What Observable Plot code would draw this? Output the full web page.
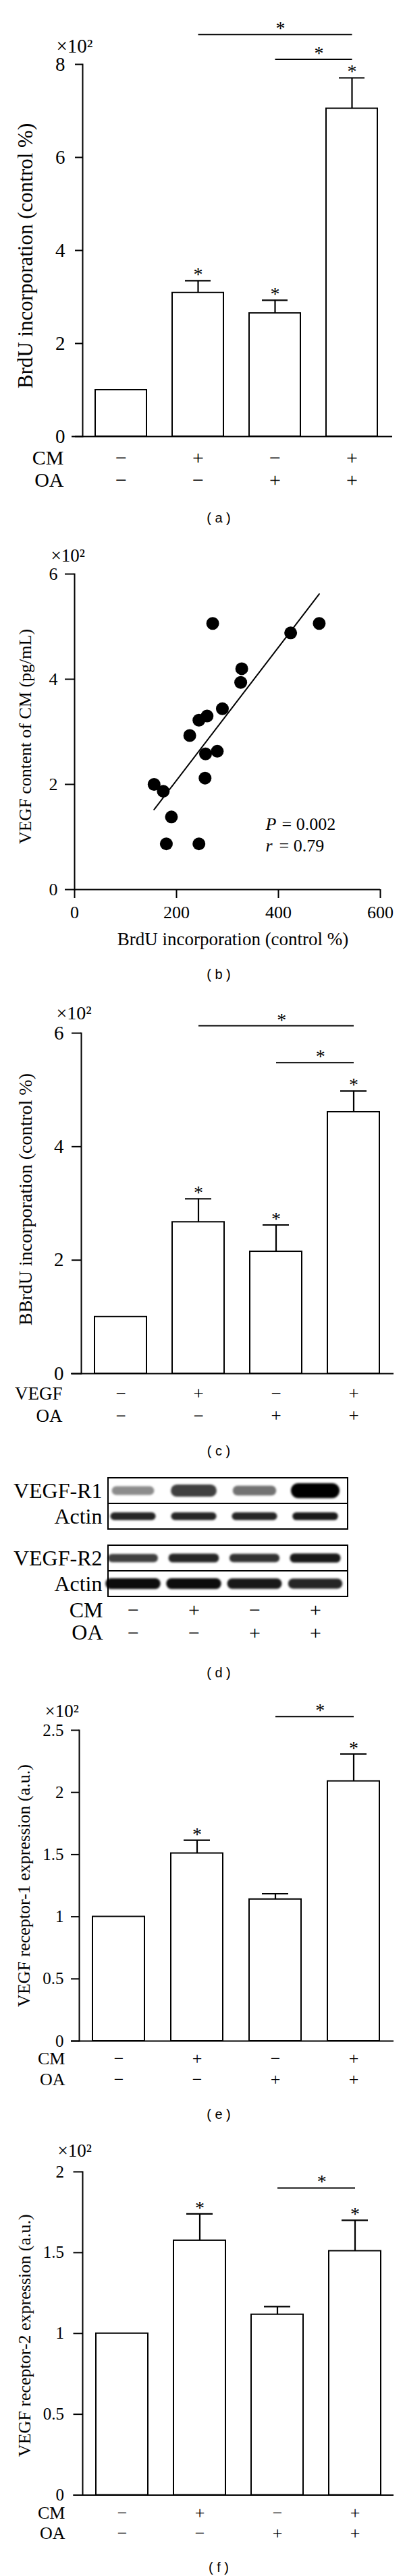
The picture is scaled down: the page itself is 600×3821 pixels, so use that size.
<!DOCTYPE html>
<html><head><meta charset="utf-8">
<script src="https://cdn.jsdelivr.net/npm/d3@7"></script>
<script src="https://cdn.jsdelivr.net/npm/@observablehq/plot@0.6"></script>
<style>
body{margin:0;background:#fff;}
#fig{position:relative;width:600px;height:3821px;background:#fff;overflow:hidden;}
#fig svg{position:absolute;left:0;overflow:visible;}
.cap{position:absolute;left:274px;width:100px;text-align:center;font-family:"Liberation Sans",Arial,sans-serif;font-size:20px;line-height:24px;color:#000;white-space:pre;}
</style></head><body><div id="fig"></div>
<script>
// ---------- data ----------
const groups = ["g1", "g2", "g3", "g4"];
const cmSigns = ["−", "+", "−", "+"];
const oaSigns = ["−", "−", "+", "+"];
const vegfSigns = ["−", "+", "−", "+"];

// (a) BrdU incorporation with CM / OA (×10²)
const aMean = [1.0, 3.09, 2.65, 7.05];
const aErr = [null, 3.35, 2.93, 7.71];
const aStar = [false, true, true, true];
const aBrackets = [["g2", "g4", 8.64], ["g3", "g4", 8.11]];
const aTicks = [0, 2, 4, 6, 8];

// (b) scatter: BrdU incorporation (control %) vs VEGF content of CM (×10² pg/mL)
const bX = [271, 480, 424, 328, 326, 290, 260, 244, 226, 257, 280, 256, 156, 174, 190, 180, 244];
const bY = [5.06, 5.06, 4.88, 4.20, 3.94, 3.44, 3.30, 3.22, 2.93, 2.58, 2.63, 2.12, 2.00, 1.87, 1.38, 0.87, 0.87];
const bFitX = [156, 480];
const bFitY = [1.52, 5.62];
const bXTicks = [0, 200, 400, 600];
const bYTicks = [0, 2, 4, 6];

// (c) BrdU incorporation with VEGF / OA (×10²)
const cMean = [1.0, 2.67, 2.15, 4.61];
const cErr = [null, 3.08, 2.62, 4.98];
const cStar = [false, true, true, true];
const cBrackets = [["g2", "g4", 6.13], ["g3", "g4", 5.48]];
const cTicks = [0, 2, 4, 6];

// (d) western blot band intensities (relative)
const r1Band = [0.45, 0.75, 0.55, 1.0];
const actin1Band = [0.85, 0.85, 0.85, 0.9];
const r2Band = [0.75, 0.85, 0.8, 0.9];
const actin2Band = [0.95, 0.95, 0.9, 0.85];

// (e) VEGF receptor-1 expression (×10²)
const eMean = [1.0, 1.51, 1.14, 2.09];
const eErr = [null, 1.615, 1.185, 2.31];
const eStar = [false, true, false, true];
const eBrackets = [["g3", "g4", 2.61]];
const eTicks = [0, 0.5, 1, 1.5, 2, 2.5];

// (f) VEGF receptor-2 expression (×10²)
const fMean = [1.0, 1.575, 1.117, 1.51];
const fErr = [null, 1.74, 1.166, 1.70];
const fStar = [false, true, false, true];
const fBrackets = [["g3", "g4", 1.90]];
const fTicks = [0, 0.5, 1, 1.5, 2];

// ---------- helpers ----------
const SERIF = "'Liberation Serif','Times New Roman',Times,serif";
const fig = document.getElementById("fig");
function place(svg, top) {
  svg.style.position = "absolute";
  svg.style.top = top + "px";
  svg.style.left = "0px";
  fig.appendChild(svg);
}
function caption(text, centerY) {
  const d = document.createElement("div");
  d.className = "cap";
  d.textContent = text;
  d.style.top = (centerY - 12) + "px";
  fig.appendChild(d);
}
const baseStyle = {fontFamily: SERIF, background: "transparent", color: "#000", overflow: "visible"};
const MID = {lineAnchor: "middle", fill: "black"};

function barPanel(c) {
  const data = groups.map((g, i) => ({g, mean: c.mean[i], err: c.err[i], star: c.star[i]}));
  const withErr = data.filter(d => d.err != null);
  const starred = data.filter(d => d.star);
  const brackets = c.brackets.map(([from, to, level]) => ({from, to, level}));
  const step = (c.xRange[1] - c.xRange[0]) / groups.length;
  const marks = [
    Plot.barY(data, {x: "g", y: "mean", fill: "white", stroke: "black", strokeWidth: 2}),
    Plot.ruleX(withErr, {x: "g", y1: "mean", y2: "err", strokeWidth: 2.2}),
    Plot.tickY(withErr, {x: "g", y: "err", strokeWidth: 2.2, inset: 19}),
    Plot.text(starred, {x: "g", y: "err", text: () => "*", dy: -9, fontSize: 28, ...MID}),
    Plot.link(brackets, {x1: "from", x2: "to", y1: "level", y2: "level", strokeWidth: 2}),
    ...brackets.map(b => Plot.text([b], {
      x: "from", y: "level", text: () => "*", dy: -9, fontSize: 28, ...MID,
      dx: (groups.indexOf(b.to) - groups.indexOf(b.from)) * step / 2 + 8
    })),
    Plot.ruleY([0], {strokeWidth: 2, insetLeft: c.baselineInset}),
    Plot.frame({anchor: "left", strokeWidth: 2}),
    Plot.axisY({ticks: c.ticks, tickSize: c.tickSize, tickPadding: c.tickPadding, fontSize: c.tickFont,
      strokeWidth: 2, tickFormat: d => String(d), label: null}),
    Plot.text(["×10²"], {frameAnchor: "top-left", textAnchor: "start", ...MID, dx: c.tenDx, dy: c.tenDy, fontSize: c.tenFont}),
    Plot.text([c.yLabel], {frameAnchor: "left", textAnchor: "middle", ...MID, rotate: -90,
      dx: c.yLabelDx, dy: c.yLabelDy, fontSize: c.yLabelFont})
  ];
  c.rowNames.forEach((name, r) => {
    marks.push(Plot.text(groups, {x: d => d, text: (d, i) => c.rowSigns[r][i], frameAnchor: "bottom",
      textAnchor: "middle", ...MID, dy: c.rowDy[r], fontSize: c.rowFont}));
    marks.push(Plot.text([name], {frameAnchor: "bottom-left", textAnchor: "end", ...MID, dx: c.rowLabelDx,
      dy: c.rowDy[r], fontSize: c.rowFont}));
  });
  const svg = Plot.plot({
    width: 600, height: c.height,
    marginTop: c.frameTop - c.top, marginBottom: c.top + c.height - c.frameBottom,
    marginLeft: c.marginLeft, marginRight: c.marginRight,
    style: baseStyle,
    x: {type: "band", domain: groups, range: c.xRange, paddingInner: 1 / 3, paddingOuter: 1 / 6, axis: null},
    y: {domain: c.yDomain, axis: null},
    marks
  });
  place(svg, c.top);
}

// ---------- (a) ----------
barPanel({
  top: 0, height: 740, frameTop: 95, frameBottom: 647, marginLeft: 122, marginRight: 19,
  xRange: [122, 578], yDomain: [0, 8], ticks: aTicks, tickSize: 11, tickPadding: 15, tickFont: 29,
  baselineInset: -16, mean: aMean, err: aErr, star: aStar, brackets: aBrackets,
  rowNames: ["CM", "OA"], rowSigns: [cmSigns, oaSigns], rowDy: [32, 65], rowLabelDx: -28, rowFont: 30,
  yLabel: "BrdU incorporation (control %)", yLabelFont: 31, yLabelDx: -84, yLabelDy: 8,
  tenDx: -39, tenDy: -27, tenFont: 29
});
caption("( a )", 768);

// ---------- (b) ----------
{
  const pts = bX.map((x, i) => ({x, y: bY[i]}));
  const fit = bFitX.map((x, i) => ({x, y: bFitY[i]}));
  const top = 790, height = 620, frameTop = 851, frameBottom = 1319;
  const L = {frameAnchor: "bottom-left", textAnchor: "start", ...MID, fontSize: 26};
  const svg = Plot.plot({
    width: 600, height, marginTop: frameTop - top, marginBottom: top + height - frameBottom,
    marginLeft: 110, marginRight: 37,
    style: baseStyle,
    x: {domain: [0, 600], axis: null},
    y: {domain: [0, 6], axis: null},
    marks: [
      Plot.ruleY([0], {strokeWidth: 2}),
      Plot.frame({anchor: "left", strokeWidth: 2}),
      Plot.axisY({ticks: bYTicks, tickSize: 14, tickPadding: 11, fontSize: 26, strokeWidth: 2,
        tickFormat: d => String(d), label: null}),
      Plot.axisX({ticks: bXTicks, tickSize: 13, tickPadding: 11, fontSize: 26, strokeWidth: 2,
        tickFormat: d => String(d), label: null}),
      Plot.line(fit, {x: "x", y: "y", strokeWidth: 2}),
      Plot.dot(pts, {x: "x", y: "y", r: 9.5, fill: "black"}),
      Plot.text(["×10²"], {frameAnchor: "top-left", textAnchor: "start", ...MID, dx: -35, dy: -27, fontSize: 27}),
      Plot.text(["VEGF content of CM (pg/mL)"], {frameAnchor: "left", textAnchor: "middle", ...MID,
        rotate: -90, dx: -73, dy: 7, fontSize: 26}),
      Plot.text(["BrdU incorporation (control %)"], {frameAnchor: "bottom", textAnchor: "middle", ...MID,
        dx: 8, dy: 74, fontSize: 27}),
      Plot.text(["P"], {...L, dx: 283, dy: -97, fontStyle: "italic"}),
      Plot.text(["= 0.002"], {...L, dx: 307, dy: -97}),
      Plot.text(["r"], {...L, dx: 283, dy: -65, fontStyle: "italic"}),
      Plot.text(["= 0.79"], {...L, dx: 303, dy: -65})
    ]
  });
  place(svg, top);
}
caption("( b )", 1445);

// ---------- (c) ----------
barPanel({
  top: 1470, height: 648, frameTop: 1532, frameBottom: 2037, marginLeft: 120, marginRight: 17,
  xRange: [120, 581], yDomain: [0, 6], ticks: cTicks, tickSize: 14, tickPadding: 12, tickFont: 29,
  baselineInset: -15, mean: cMean, err: cErr, star: cStar, brackets: cBrackets,
  rowNames: ["VEGF", "OA"], rowSigns: [vegfSigns, oaSigns], rowDy: [29.5, 63], rowLabelDx: -28, rowFont: 27,
  yLabel: "BBrdU incorporation (control %)", yLabelFont: 28, yLabelDx: -82.5, yLabelDy: -6,
  tenDx: -37, tenDy: -29, tenFont: 28
});
caption("( c )", 2152);

// ---------- (d) blots ----------
function blotPanel(c) {
  const rows = [c.target, "Actin"];
  const rowH = (c.frameBottom - c.frameTop) / 2;
  const tgt = groups.map((g, i) => ({g, row: c.target, v: c.targetBand[i]}));
  const act = groups.map((g, i) => ({g, row: "Actin", v: c.actinBand[i]}));
  const bandOpts = {
    x: "g", y: "row", fill: "black", stroke: "black", opacity: "v", strokeLinejoin: "round",
    insetTop: (rowH - 1) / 2, insetBottom: (rowH - 1) / 2,
    imageFilter: "blur(1.8px)"
  };
  const marks = [
    Plot.cell(rows, {y: d => d, fill: "white", stroke: "black", strokeWidth: 2}),
    Plot.cell(tgt, {...bandOpts, insetLeft: c.targetInset, insetRight: c.targetInset,
      strokeWidth: d => c.targetW[0] + c.targetW[1] * d.v}),
    Plot.cell(act, {...bandOpts, insetLeft: c.actinInset, insetRight: c.actinInset,
      strokeWidth: d => c.actinW[0] + c.actinW[1] * d.v}),
    Plot.cell(rows, {y: d => d, fill: "none", stroke: "black", strokeWidth: 2}),
    Plot.axisY({tickSize: 0, tickPadding: 9, fontSize: 32, fill: "black", label: null})
  ];
  if (c.rows) {
    c.rows.names.forEach((name, r) => {
      marks.push(Plot.text(groups, {x: d => d, text: (d, i) => c.rows.signs[r][i], frameAnchor: "bottom",
        textAnchor: "middle", ...MID, dy: c.rows.dy[r], fontSize: 30}));
      marks.push(Plot.text([name], {frameAnchor: "bottom-left", textAnchor: "end", ...MID, dx: -8,
        dy: c.rows.dy[r], fontSize: 32}));
    });
  }
  const svg = Plot.plot({
    width: 600, height: c.height,
    marginTop: c.frameTop - c.top, marginBottom: c.top + c.height - c.frameBottom,
    marginLeft: 160, marginRight: 85,
    style: baseStyle,
    x: {type: "band", domain: groups, range: [151, 512], padding: 0, axis: null},
    y: {type: "band", domain: rows, padding: 0, axis: null},
    opacity: {domain: [0, 1], range: [0, 1]},
    marks
  });
  place(svg, c.top);
}
blotPanel({top: 2185, height: 90, frameTop: 2191, frameBottom: 2268.5, target: "VEGF-R1",
  targetBand: r1Band, actinBand: actin1Band, targetW: [5, 17], actinW: [6, 6],
  targetInset: 20, actinInset: 17});
blotPanel({top: 2285, height: 155, frameTop: 2291.5, frameBottom: 2368.5, target: "VEGF-R2",
  targetBand: r2Band, actinBand: actin2Band, targetW: [5, 9], actinW: [5, 11],
  targetInset: 14, actinInset: 12,
  rows: {names: ["CM", "OA"], signs: [cmSigns, oaSigns], dy: [19.5, 53]}});
caption("( d )", 2481);

// ---------- (e) ----------
barPanel({
  top: 2500, height: 600, frameTop: 2566, frameBottom: 3027, marginLeft: 117, marginRight: 17,
  xRange: [117, 583], yDomain: [0, 2.5], ticks: eTicks, tickSize: 12, tickPadding: 11, tickFont: 25,
  baselineInset: -12, mean: eMean, err: eErr, star: eStar, brackets: eBrackets,
  rowNames: ["CM", "OA"], rowSigns: [cmSigns, oaSigns], rowDy: [26.5, 57], rowLabelDx: -21, rowFont: 26,
  yLabel: "VEGF receptor-1 expression (a.u.)", yLabelFont: 26, yLabelDx: -81.5, yLabelDy: 0,
  tenDx: -51, tenDy: -28, tenFont: 27
});
caption("( e )", 3136);

// ---------- (f) ----------
barPanel({
  top: 3160, height: 615, frameTop: 3221, frameBottom: 3700.5, marginLeft: 122, marginRight: 17,
  xRange: [122, 583], yDomain: [0, 2], ticks: fTicks, tickSize: 13.5, tickPadding: 14, tickFont: 25,
  baselineInset: -13.5, mean: fMean, err: fErr, star: fStar, brackets: fBrackets,
  rowNames: ["CM", "OA"], rowSigns: [cmSigns, oaSigns], rowDy: [26.5, 57], rowLabelDx: -26, rowFont: 26,
  yLabel: "VEGF receptor-2 expression (a.u.)", yLabelFont: 26, yLabelDx: -85.5, yLabelDy: 3,
  tenDx: -37, tenDy: -31, tenFont: 27
});
caption("( f )", 3807.5);
</script>
</body></html>
